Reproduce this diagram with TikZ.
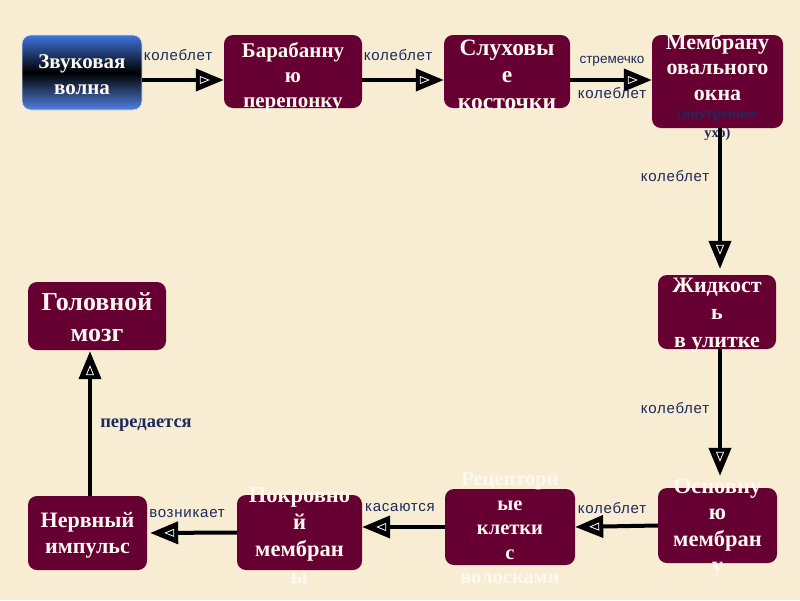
\documentclass[tikz,border=0pt]{standalone}
\usepackage{fontspec}
\setmainfont{Liberation Serif}
\newfontfamily\lsans[LetterSpace=5]{Liberation Sans}
\newfontfamily\lsanstight{Liberation Sans}
\usetikzlibrary{arrows.meta}
\definecolor{bgc}{HTML}{F8ECD3}
\definecolor{boxc}{HTML}{660033}
\definecolor{navyc}{HTML}{1C2A5C}
\definecolor{txtc}{HTML}{FFF8EE}
\definecolor{bluec}{HTML}{3F73DC}
\begin{document}
\begin{tikzpicture}[x=1pt,y=-1pt,
  box/.style={fill=boxc, rounded corners=9pt, inner sep=0pt},
  btext/.style={text=txtc, align=center, inner sep=0pt},
  elabel/.style={text=navyc, font=\lsans\fontsize{15}{17}\selectfont, inner sep=0pt},
  arr/.style={line width=4pt, -{Triangle[length=28pt,width=22pt,sep=-24pt] Triangle[open, white, length=10pt, width=8pt, line width=0.8pt]}}]
\fill[bgc] (0,0) rectangle (800,600);
\useasboundingbox (0,0) rectangle (800,600);
% boxes
\node[rounded corners=9pt, inner sep=0pt, top color=bluec, bottom color=bluec!90!white, middle color=black, draw=white!80!bluec, line width=0.6pt, minimum width=120pt, minimum height=75pt] (zv) at (82,72.5) {};
\node[box, minimum width=138pt, minimum height=73pt] (bar) at (293,71.5) {};
\node[box, minimum width=126pt, minimum height=73pt] (slu) at (507,71.5) {};
\node[box, minimum width=131pt, minimum height=93pt] (mem) at (717.5,81.5) {};
\node[box, minimum width=118pt, minimum height=74pt] (zhi) at (717,312) {};
\node[box, minimum width=119pt, minimum height=75pt] (osn) at (717.5,525.5) {};
\node[box, minimum width=130pt, minimum height=76pt] (rec) at (510,527) {};
\node[box, minimum width=125pt, minimum height=75pt] (pok) at (299.5,532.5) {};
\node[box, minimum width=119pt, minimum height=74pt] (ner) at (87.5,533) {};
\node[box, minimum width=138pt, minimum height=68pt] (gol) at (97,316) {};
% texts
\node[btext, font=\bfseries\fontsize{21}{26}\selectfont] (tzv) at (82,75) {Звуковая\\волна};
\node[btext, font=\bfseries\fontsize{21}{25}\selectfont] (tbar) at (293,77) {Барабанну\\ю\\перепонку};
\node[btext, font=\bfseries\fontsize{23.5}{27}\selectfont] (tslu) at (507,75) {Слуховы\\е\\косточки};
\node[btext, font=\bfseries\fontsize{22}{25.5}\selectfont] (tmem) at (717.5,67) {Мембрану\\овального\\окна};
\node[btext, text=navyc, font=\bfseries\fontsize{14.5}{19}\selectfont] (tmem2) at (717.5,125) {(внутреннее\\ухо)};
\node[btext, font=\bfseries\fontsize{22}{27.5}\selectfont] (tzhi) at (717,315) {Жидкост\\ь\\в улитке};
\node[btext, font=\bfseries\fontsize{22.5}{26.5}\selectfont] (tosn) at (717.5,528) {Основну\\ю\\мембран\\у};
\node[btext, font=\bfseries\fontsize{20.5}{24.5}\selectfont] (trec) at (510,528) {Рецепторн\\ые\\клетки\\с\\волосками};
\node[btext, font=\bfseries\fontsize{22.5}{27}\selectfont] (tpok) at (299.5,536) {Покровно\\й\\мембран\\ы};
\node[btext, font=\bfseries\fontsize{22}{26}\selectfont] (tner) at (87.5,535) {Нервный\\импульс};
\node[btext, font=\bfseries\fontsize{26}{31}\selectfont] (tgol) at (97,317) {Головной\\мозг};
% connectors
\draw[arr, shorten >=14pt] ([yshift=-7.5pt]zv.east) -- ([yshift=-8.5pt]bar.west);
\draw[arr, shorten >=14pt] ([yshift=-8.5pt]bar.east) -- ([yshift=-8.5pt]slu.west);
\draw[arr, shorten >=14pt] ([yshift=-8.5pt]slu.east) -- ([yshift=1.5pt]mem.west);
\draw[arr, shorten >=20pt] ([xshift=2.5pt]mem.south) -- ([xshift=3pt]zhi.north);
\draw[arr, shorten >=26pt] ([xshift=3pt]zhi.south) -- ([xshift=2.5pt]osn.north);
\draw[arr, shorten >=14pt] (osn.west) -- (rec.east);
\draw[arr, shorten >=14pt] (rec.west) -- ([yshift=5.5pt]pok.east);
\draw[arr, shorten >=17pt] (pok.west) -- (ner.east);
\draw[arr, shorten >=15pt] ([xshift=2.5pt]ner.north) -- ([xshift=-7pt]gol.south);
% connector labels
\node[elabel] (l1) at (178,55) {колеблет};
\node[elabel] (l2) at (398,55) {колеблет};
\node[elabel, font=\lsanstight\fontsize{13.5}{15}\selectfont] (l3a) at (612,61) {стремечко};
\node[elabel] (l3b) at (612,93) {колеблет};
\node[elabel] (l4) at (675,176) {колеблет};
\node[elabel] (l5) at (675,408) {колеблет};
\node[elabel] (l6) at (612,508) {колеблет};
\node[elabel] (l7) at (400,508) {касаются};
\node[elabel] (l8) at (187,514) {возникает};
\node[text=navyc, font=\bfseries\fontsize{18.5}{20}\selectfont, inner sep=0pt] (l9) at (146,425) {передается};
\end{tikzpicture}
\end{document}
